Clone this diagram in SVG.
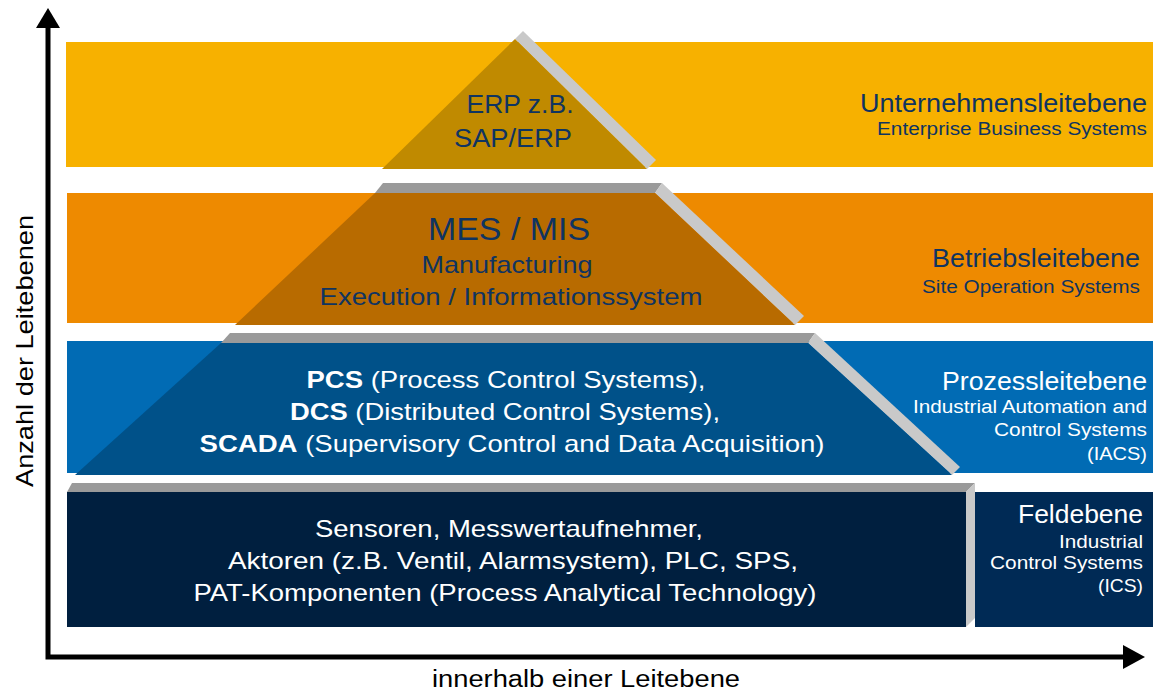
<svg xmlns="http://www.w3.org/2000/svg" width="1153" height="693" viewBox="0 0 1153 693">
<style>
text{font-family:"Liberation Sans",Arial,sans-serif}
.dk{fill:#0F3461}
.wt{fill:#FFFFFF}
.gtop{fill:#9A9A9A}
.gside{fill:#C9C9C9}
.ax{stroke:#000;stroke-width:5;fill:none}
.c{text-anchor:middle}
.r{text-anchor:end}
.b{font-weight:bold}
</style>
<rect width="1153" height="693" fill="#FFFFFF"/>

<g id="level-erp">
<rect x="66" y="42" width="1087" height="125" fill="#F7B100"/>
<polygon points="515,39 523,31 656,160 647,169" class="gside"/>
<polygon points="515,39 647,169 382,169" fill="#C08A00"/>
<text x="520" y="113" class="dk c" font-size="26" textLength="107" lengthAdjust="spacingAndGlyphs">ERP z.B.</text>
<text x="513" y="147" class="dk c" font-size="26" textLength="118" lengthAdjust="spacingAndGlyphs">SAP/ERP</text>
<text x="1147" y="112" class="dk r" font-size="26" textLength="287" lengthAdjust="spacingAndGlyphs">Unternehmensleitebene</text>
<text x="1147" y="135" class="dk r" font-size="18" textLength="270" lengthAdjust="spacingAndGlyphs">Enterprise Business Systems</text>
</g>

<g id="level-mes">
<rect x="67" y="193" width="1086" height="130" fill="#EE8A00"/>
<polygon points="383,183 662,183 655,193 375,193" class="gtop"/>
<polygon points="655,193 662,183 804,316 795,325" class="gside"/>
<polygon points="375,193 655,193 795,325 235,325" fill="#B86B00"/>
<text x="509" y="240" class="dk c" font-size="32" textLength="162" lengthAdjust="spacingAndGlyphs">MES / MIS</text>
<text x="507" y="273" class="dk c" font-size="24" textLength="171" lengthAdjust="spacingAndGlyphs">Manufacturing</text>
<text x="511" y="305" class="dk c" font-size="24" textLength="383" lengthAdjust="spacingAndGlyphs">Execution / Informationssystem</text>
<text x="1140" y="267" class="dk r" font-size="26" textLength="208" lengthAdjust="spacingAndGlyphs">Betriebsleitebene</text>
<text x="1140" y="293" class="dk r" font-size="18" textLength="218" lengthAdjust="spacingAndGlyphs">Site Operation Systems</text>
</g>

<g id="level-pcs">
<rect x="67" y="341" width="1086" height="132" fill="#016BB4"/>
<polygon points="230,333 815,333 808,343 221,343" class="gtop"/>
<polygon points="808,343 815,333 960,467 952,475" class="gside"/>
<polygon points="221,343 808,343 952,475 75,475" fill="#005189"/>
<text x="506" y="388" class="wt c" font-size="24" textLength="399" lengthAdjust="spacingAndGlyphs"><tspan class="b">PCS</tspan> (Process Control Systems),</text>
<text x="505" y="420" class="wt c" font-size="24" textLength="430" lengthAdjust="spacingAndGlyphs"><tspan class="b">DCS</tspan> (Distributed Control Systems),</text>
<text x="512" y="452" class="wt c" font-size="24" textLength="625" lengthAdjust="spacingAndGlyphs"><tspan class="b">SCADA</tspan> (Supervisory Control and Data Acquisition)</text>
<text x="1147" y="390" class="wt r" font-size="26" textLength="205" lengthAdjust="spacingAndGlyphs">Prozessleitebene</text>
<text x="1147" y="413" class="wt r" font-size="18" textLength="234" lengthAdjust="spacingAndGlyphs">Industrial Automation and</text>
<text x="1147" y="436" class="wt r" font-size="18" textLength="153" lengthAdjust="spacingAndGlyphs">Control Systems</text>
<text x="1147" y="460" class="wt r" font-size="18" textLength="60" lengthAdjust="spacingAndGlyphs">(IACS)</text>
</g>

<g id="level-feld">
<polygon points="72,483 975,483 966,492 67,492" class="gtop"/>
<rect x="67" y="492" width="899" height="135" fill="#001F3F"/>
<polygon points="966,492 975,483 975,618 966,627" class="gside"/>
<rect x="975" y="492" width="178" height="135" fill="#002A55"/>
<text x="509" y="537" class="wt c" font-size="24" textLength="388" lengthAdjust="spacingAndGlyphs">Sensoren, Messwertaufnehmer,</text>
<text x="513" y="569" class="wt c" font-size="24" textLength="570" lengthAdjust="spacingAndGlyphs">Aktoren (z.B. Ventil, Alarmsystem), PLC, SPS,</text>
<text x="505" y="601" class="wt c" font-size="24" textLength="623" lengthAdjust="spacingAndGlyphs">PAT-Komponenten (Process Analytical Technology)</text>
<text x="1143" y="523" class="wt r" font-size="26" textLength="125" lengthAdjust="spacingAndGlyphs">Feldebene</text>
<text x="1143" y="548" class="wt r" font-size="18" textLength="84" lengthAdjust="spacingAndGlyphs">Industrial</text>
<text x="1143" y="569" class="wt r" font-size="18" textLength="153" lengthAdjust="spacingAndGlyphs">Control Systems</text>
<text x="1143" y="592" class="wt r" font-size="18" textLength="45" lengthAdjust="spacingAndGlyphs">(ICS)</text>
</g>

<g id="axes">
<polyline points="48,27 48,657 1124,657" class="ax"/>
<polygon points="48,8 60,28 36,28" fill="#000"/>
<polygon points="1145,657 1123,645 1123,669" fill="#000"/>
<text x="0" y="0" transform="translate(33,351) rotate(-90)" class="c" font-size="24" fill="#000" textLength="272" lengthAdjust="spacingAndGlyphs">Anzahl der Leitebenen</text>
<text x="586" y="687" class="c" font-size="23" fill="#000" textLength="308" lengthAdjust="spacingAndGlyphs">innerhalb einer Leitebene</text>
</g>
</svg>
